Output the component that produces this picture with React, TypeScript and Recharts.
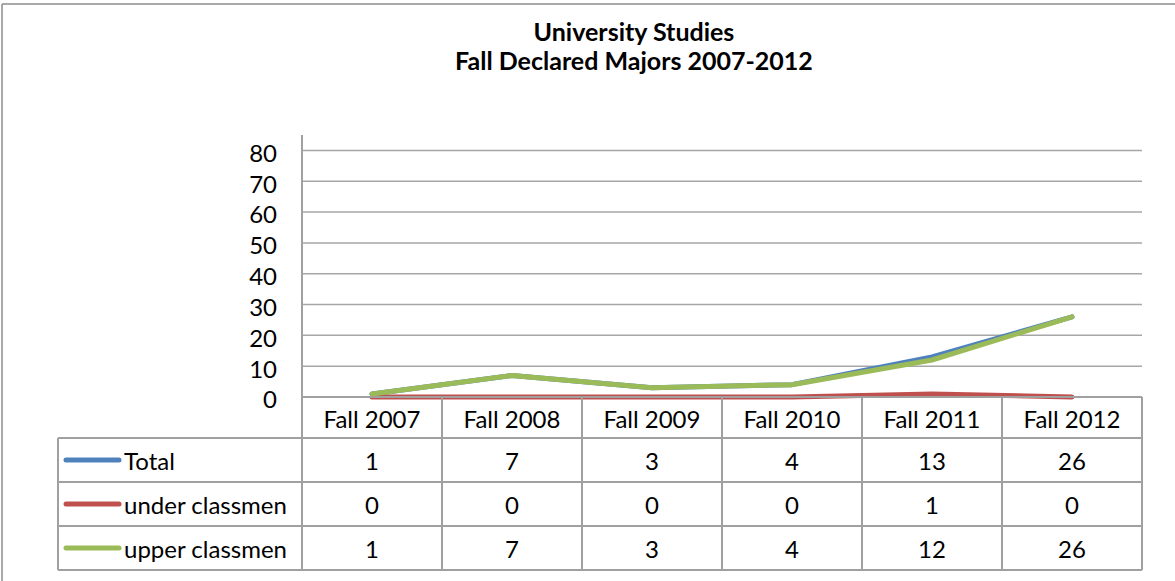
import React from 'react';
import { LineChart, Line, XAxis, YAxis, CartesianGrid } from 'recharts';

const CATEGORIES = ['Fall 2007', 'Fall 2008', 'Fall 2009', 'Fall 2010', 'Fall 2011', 'Fall 2012'];
const TOTAL = [1, 7, 3, 4, 13, 26];
const UNDER_CLASSMEN = [0, 0, 0, 0, 1, 0];
const UPPER_CLASSMEN = [1, 7, 3, 4, 12, 26];
const Y_TICKS = [0, 10, 20, 30, 40, 50, 60, 70, 80];

const SERIES = [
  { key: 'total', name: 'Total', values: TOTAL, color: '#4F81BD' },
  { key: 'under', name: 'under classmen', values: UNDER_CLASSMEN, color: '#C0504D' },
  { key: 'upper', name: 'upper classmen', values: UPPER_CLASSMEN, color: '#9BBB59' },
];

const data = CATEGORIES.map((label, i) => ({
  idx: i,
  label,
  total: TOTAL[i],
  under: UNDER_CLASSMEN[i],
  upper: UPPER_CLASSMEN[i],
}));

const FONT = 'Lato, Carlito, Calibri, sans-serif';
const FONT_SIZE = 24;
const GRID = '#A6A6A6';
const BORDER = '#A0A0A0';
const HEADER_H = 41; // category row
const ROW_H = 44; // data rows
const TABLE_LEFT = 58;

function YTick(props: any) {
  const { x, y, payload } = props;
  return (
    <text x={x} y={y + 3} dy="0.35em" textAnchor="end" fontFamily={FONT} fontSize={FONT_SIZE} fill="#000">
      {payload.value}
    </text>
  );
}

// one column of the data table, hung off the x axis tick
function TableColumn(props: any) {
  const { x, y, payload, index, width, visibleTicksCount } = props;
  const colW = width && visibleTicksCount ? width / visibleTicksCount : 140;
  const half = colW / 2;
  const i = payload.value as number;
  const bottom = y + HEADER_H + ROW_H * SERIES.length;
  const rowLines = SERIES.map((_, r) => y + HEADER_H + ROW_H * r).concat(bottom);
  const textProps = { fontFamily: FONT, fontSize: FONT_SIZE, fill: '#000' };

  return (
    <g>
      <text x={x} y={y + HEADER_H / 2 + 2} dy="0.35em" textAnchor="middle" {...textProps}>
        {CATEGORIES[i]}
      </text>
      {SERIES.map((s, r) => (
        <text
          key={s.key}
          x={x}
          y={y + HEADER_H + ROW_H * r + ROW_H / 2 + 2}
          dy="0.35em"
          textAnchor="middle"
          {...textProps}
        >
          {s.values[i]}
        </text>
      ))}
      <line x1={x - half} x2={x - half} y1={y} y2={bottom} stroke={BORDER} strokeWidth={2} />
      {index === visibleTicksCount - 1 && (
        <line x1={x + half} x2={x + half} y1={y} y2={bottom} stroke={BORDER} strokeWidth={2} />
      )}
      {rowLines.map((ly) => (
        <line key={ly} x1={x - half} x2={x + half} y1={ly} y2={ly} stroke={BORDER} strokeWidth={2} />
      ))}
      {index === 0 && (
        <g>
          <line x1={TABLE_LEFT} x2={TABLE_LEFT} y1={y + HEADER_H} y2={bottom} stroke={BORDER} strokeWidth={2} />
          {rowLines.map((ly) => (
            <line key={ly} x1={TABLE_LEFT} x2={x - half} y1={ly} y2={ly} stroke={BORDER} strokeWidth={2} />
          ))}
          {SERIES.map((s, r) => {
            const cy = y + HEADER_H + ROW_H * r + ROW_H / 2;
            return (
              <g key={s.key}>
                <line
                  x1={TABLE_LEFT + 8}
                  x2={TABLE_LEFT + 61}
                  y1={cy}
                  y2={cy}
                  stroke={s.color}
                  strokeWidth={5}
                  strokeLinecap="round"
                />
                <text x={TABLE_LEFT + 66} y={cy + 2} dy="0.35em" textAnchor="start" {...textProps}>
                  {s.name}
                </text>
              </g>
            );
          })}
        </g>
      )}
    </g>
  );
}

export default function App() {
  return (
    <div style={{ position: 'absolute', left: 0, top: 0, width: 1175, height: 581, overflow: 'hidden', background: '#fff' }}>
      <svg width={1175} height={581} style={{ position: 'absolute', left: 0, top: 0 }}>
        <line x1={2} x2={1175} y1={4} y2={4} stroke="#8C8C8C" strokeWidth={1.5} />
        <line x1={2} x2={2} y1={4} y2={581} stroke="#8C8C8C" strokeWidth={1.5} />
        <text x={634} y={41} textAnchor="middle" fontFamily={FONT} fontWeight="bold" fontSize={25} fill="#000">
          University Studies
        </text>
        <text x={634} y={70} textAnchor="middle" fontFamily={FONT} fontWeight="bold" fontSize={25} fill="#000">
          Fall Declared Majors 2007-2012
        </text>
      </svg>
      <div style={{ position: 'absolute', left: 0, top: 0 }}>
        <LineChart width={1175} height={581} data={data} margin={{ top: 135, right: 33, bottom: 11, left: 0 }}>
          <CartesianGrid vertical={false} horizontalValues={Y_TICKS} stroke={GRID} strokeWidth={1.5} />
          <XAxis
            dataKey="idx"
            type="number"
            domain={[-0.5, 5.5]}
            ticks={[0, 1, 2, 3, 4, 5]}
            interval={0}
            height={HEADER_H + ROW_H * SERIES.length}
            tickLine={false}
            tickSize={0}
            tickMargin={0}
            axisLine={{ stroke: BORDER, strokeWidth: 2 }}
            tick={(p: any) => <TableColumn {...p} />}
          />
          <YAxis
            width={302}
            domain={[0, 85]}
            ticks={Y_TICKS}
            interval={0}
            tickLine={false}
            tickSize={6}
            tickMargin={19}
            axisLine={{ stroke: BORDER, strokeWidth: 2 }}
            tick={(p: any) => <YTick {...p} />}
          />
          {SERIES.map((s) => (
            <Line
              key={s.key}
              type="linear"
              dataKey={s.key}
              name={s.name}
              stroke={s.color}
              strokeWidth={5}
              strokeLinecap="round"
              strokeLinejoin="round"
              dot={false}
              activeDot={false}
              isAnimationActive={false}
            />
          ))}
        </LineChart>
      </div>
    </div>
  );
}
